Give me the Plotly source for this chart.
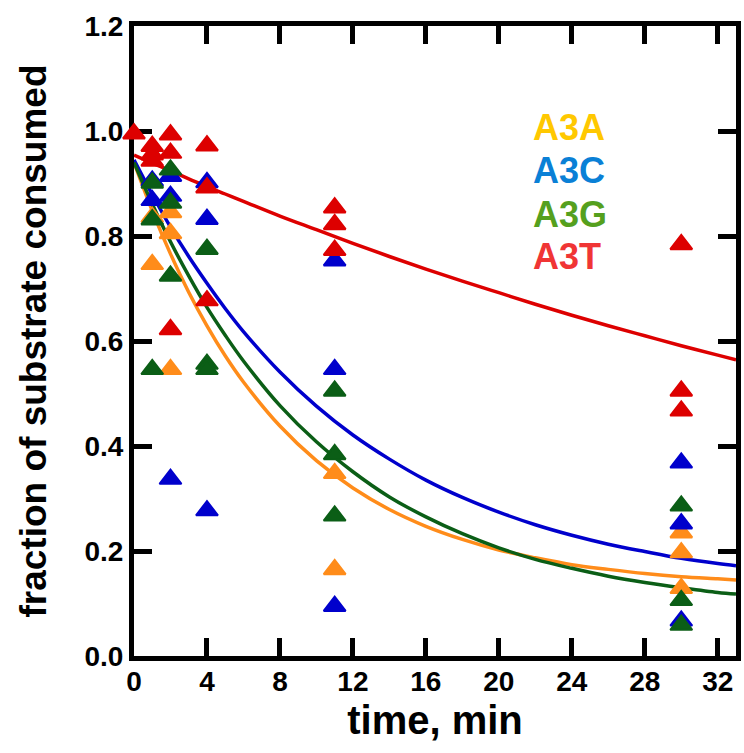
import plotly.graph_objects as go

# ---- data ----
a3a_t = [1, 1, 2, 2, 2, 11, 11, 30, 30, 30]
a3a_v = [0.836, 0.746, 0.845, 0.805, 0.546, 0.348, 0.165, 0.235, 0.197, 0.129]

a3c_t = [1, 1, 2, 2, 2, 4, 4, 4, 11, 11, 11, 30, 30, 30]
a3c_v = [0.905, 0.868, 0.914, 0.876, 0.337, 0.902, 0.832, 0.277, 0.753, 0.546, 0.095, 0.368, 0.252, 0.067]

a3g_t = [1, 1, 1, 2, 2, 2, 4, 4, 4, 11, 11, 11, 30, 30, 30]
a3g_v = [0.901, 0.831, 0.546, 0.926, 0.863, 0.724, 0.775, 0.556, 0.546, 0.505, 0.384, 0.267, 0.286, 0.106, 0.059]

a3t_t = [0, 1, 1, 1, 2, 2, 2, 4, 4, 4, 11, 11, 11, 30, 30, 30]
a3t_v = [0.995, 0.971, 0.955, 0.943, 0.993, 0.958, 0.622, 0.972, 0.892, 0.677, 0.854, 0.822, 0.773, 0.784, 0.505, 0.467]

# fitted curves, values
fit_t = [0, 1, 2, 3, 4, 5, 6, 8, 10, 12, 14, 16, 18, 20, 22, 24, 26, 28, 30, 32, 33]
fit_a3a = [0.940, 0.848, 0.766, 0.693, 0.629, 0.572, 0.522, 0.438, 0.372, 0.320, 0.279,
           0.247, 0.222, 0.202, 0.187, 0.174, 0.165, 0.157, 0.151, 0.147, 0.145]
fit_a3c = [0.945, 0.879, 0.817, 0.761, 0.710, 0.662, 0.618, 0.541, 0.476, 0.421, 0.375,
           0.335, 0.302, 0.274, 0.250, 0.230, 0.213, 0.199, 0.186, 0.176, 0.172]
fit_a3g = [0.940, 0.861, 0.789, 0.724, 0.664, 0.611, 0.562, 0.477, 0.408, 0.351, 0.303,
           0.265, 0.233, 0.206, 0.184, 0.167, 0.152, 0.140, 0.130, 0.121, 0.118]
fit_a3t = [0.954, 0.939, 0.924, 0.909, 0.894, 0.880, 0.866, 0.838, 0.812, 0.786, 0.761,
           0.737, 0.714, 0.692, 0.670, 0.649, 0.629, 0.610, 0.591, 0.573, 0.564]

names = ["A3A", "A3C", "A3G", "A3T"]
mark_colors = ["#FF8C1A", "#0000CC", "#0B5E16", "#DD0000"]
label_colors = ["#FFC800", "#0A80D6", "#55A01E", "#F03535"]

x_ticks = [0, 4, 8, 12, 16, 20, 24, 28, 32]
y_ticks = [0.0, 0.2, 0.4, 0.6, 0.8, 1.0, 1.2]

FONT = "Liberation Sans"

fig = go.Figure()

fits = [fit_a3a, fit_a3c, fit_a3g, fit_a3t]
for f, c in zip(fits, mark_colors):
    fig.add_trace(go.Scatter(x=fit_t, y=f, mode="lines", line=dict(color=c, width=3.5, shape="spline"),
                             showlegend=False, hoverinfo="skip"))

pts = [(a3a_t, a3a_v), (a3c_t, a3c_v), (a3g_t, a3g_v), (a3t_t, a3t_v)]
for (t, v), c, n in zip(pts, mark_colors, names):
    fig.add_trace(go.Scatter(x=t, y=v, mode="markers", name=n, cliponaxis=False,
                             marker=dict(symbol="triangle-up", size=19, color=c,
                                         line=dict(color=c, width=2)),
                             showlegend=False))

label_y = [0.8390, 0.7700, 0.7010, 0.6335]
for n, c, yy in zip(names, label_colors, label_y):
    fig.add_annotation(text=n, xref="paper", yref="paper", x=0.660, y=yy,
                       xanchor="left", yanchor="middle", showarrow=False,
                       font=dict(family=FONT, size=36, color=c, weight="bold"))

axis_common = dict(showline=True, linewidth=5, linecolor="black", mirror="ticks",
                   ticks="inside", ticklen=18, tickwidth=5, tickcolor="black",
                   showgrid=False, zeroline=False, layer="below traces",
                   tickfont=dict(family=FONT, size=28, color="black", weight="bold"))

fig.update_xaxes(range=[0, 33], tickvals=x_ticks, ticktext=[str(v) for v in x_ticks],
                 ticklabelstandoff=-4,
                 title=dict(text="time, min", font=dict(family=FONT, size=40, color="black", weight="bold"),
                            standoff=12),
                 **axis_common)
fig.update_yaxes(range=[0, 1.2], tickvals=y_ticks, ticktext=[f"{v:.1f}" for v in y_ticks],
                 title=dict(text="fraction of substrate consumed",
                            font=dict(family=FONT, size=37, color="black", weight="bold"),
                            standoff=28),
                 **axis_common)

fig.update_layout(width=744, height=753, margin=dict(l=134, r=3, t=26, b=97),
                  plot_bgcolor="white", paper_bgcolor="white")

fig.write_html("out.html")
